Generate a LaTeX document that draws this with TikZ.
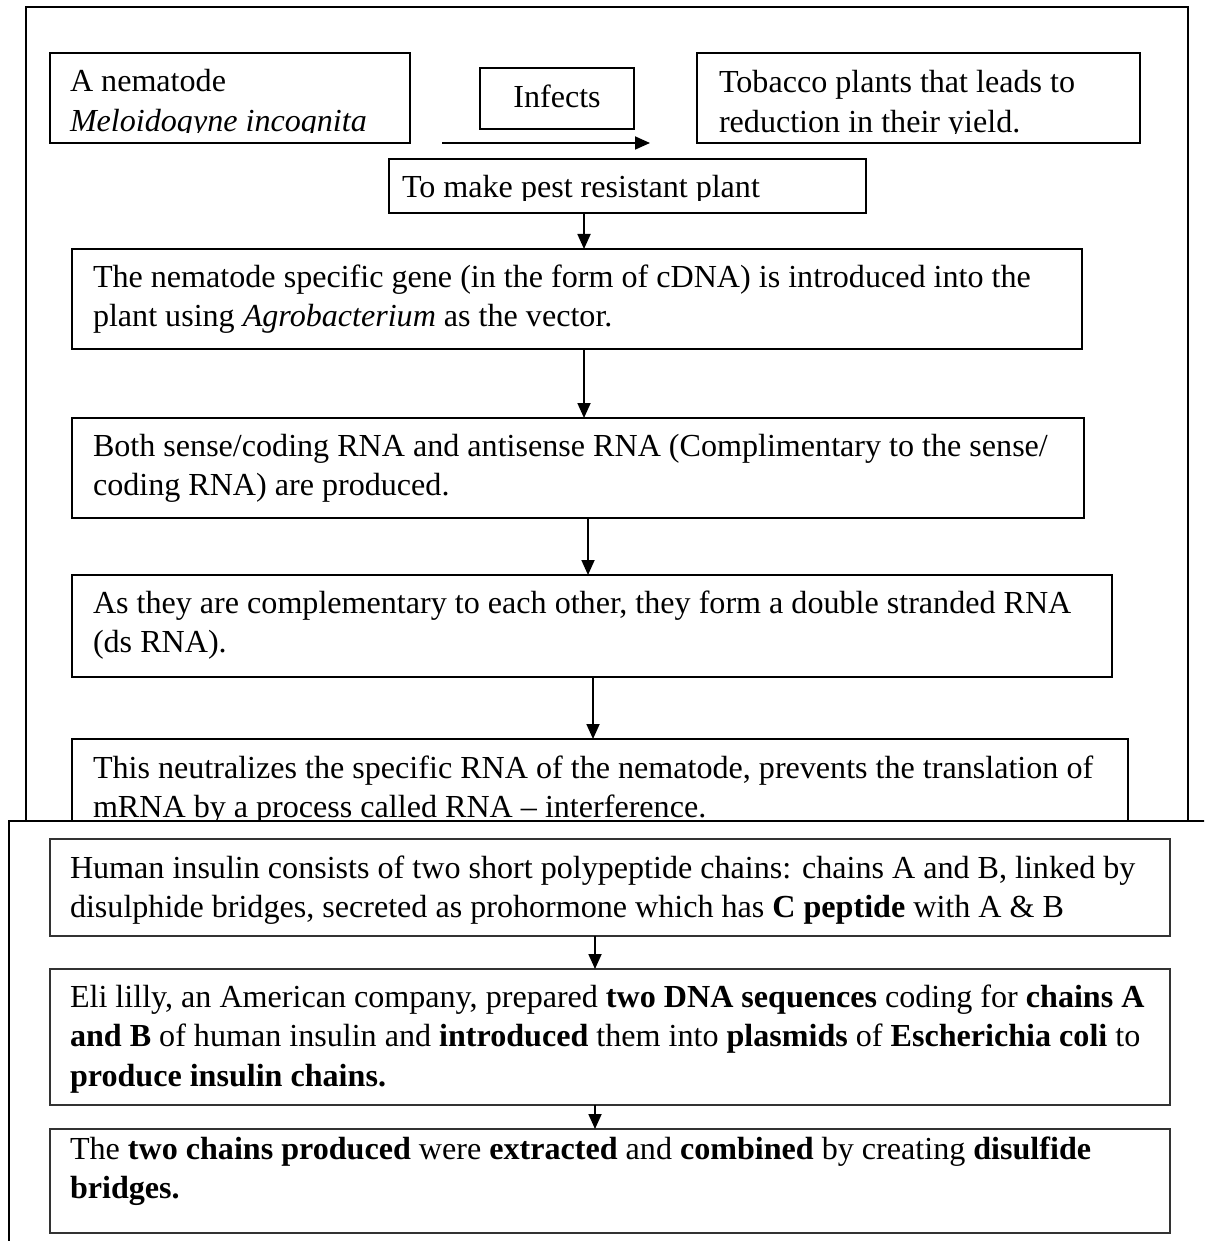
\documentclass[tikz,border=0pt]{standalone}
\usepackage{fontspec}
\setmainfont{Liberation Serif}
\usetikzlibrary{arrows.meta}
\newcommand\txtlines[1]{\begin{tabular}[t]{@{}l@{}}#1\end{tabular}}
\begin{document}
\begin{tikzpicture}[x=1pt,y=-1pt,
  frame/.style={draw=black, line width=2pt, fill=white, inner sep=0pt, outer sep=0pt, anchor=north west},
  box/.style={draw=black, line width=2pt, fill=white, inner sep=0pt, outer sep=0pt, anchor=north west},
  lowbox/.style={box, draw=black!80, line width=1.8pt},
  txt/.style={anchor=base west, draw=none, fill=none, minimum width=0pt, minimum height=0pt,
    inner sep=0pt, outer sep=0pt, font=\fontsize{32.1}{39.5}\selectfont},
  txtc/.style={txt, anchor=base},
  flow/.style={line width=1.8pt, -{Triangle[length=15pt,width=13pt]}},
]
\useasboundingbox (0,0) rectangle (1204,1241);
\clip (0,0) rectangle (1204,1241);
\fill[white] (0,0) rectangle (1204,1241);

% upper panel: nematode resistance
\node[frame, minimum width=1162pt, minimum height=843pt] (frameA) at (26,7) {};

\node[box, minimum width=360pt, minimum height=90pt,
  path picture={
    \clip (path picture bounding box.north west) rectangle ([shift={(0,-10)}]path picture bounding box.south east);
    \node[txt] at ([shift={(20,39)}]path picture bounding box.north west)
      {\txtlines{A nematode\\\textit{Meloidogyne incognita}}};}] (nem) at (50,53) {};

\node[box, minimum width=154pt, minimum height=61pt,
  path picture={
    \node[txtc] at ([shift={(77,40)}]path picture bounding box.north west) {Infects};}] (infects) at (480,68) {};

\node[box, minimum width=443pt, minimum height=90pt,
  path picture={
    \clip (path picture bounding box.north west) rectangle ([shift={(0,-9)}]path picture bounding box.south east);
    \node[txt] at ([shift={(22,40)}]path picture bounding box.north west)
      {\txtlines{Tobacco plants that leads to\\reduction in their yield.}};}] (tobacco) at (697,53) {};

\coordinate (infstart) at (442,143);
\coordinate (infend) at (650,143);
\draw[flow] (infstart) -- (infend);

\node[box, minimum width=477pt, minimum height=54pt,
  path picture={
    \clip (path picture bounding box.north west) rectangle ([shift={(0,-12)}]path picture bounding box.south east);
    \node[txt] at ([shift={(13,39)}]path picture bounding box.north west)
      {To make pest resistant plant};}] (tomake) at (389,159) {};

\node[box, minimum width=1010pt, minimum height=100pt,
  path picture={
    \node[txt] at ([shift={(21,38)}]path picture bounding box.north west)
      {\txtlines{The nematode specific gene (in the form of cDNA) is introduced into the\\plant using \textit{Agrobacterium} as the vector.}};}] (gene) at (72,249) {};

\node[box, minimum width=1012pt, minimum height=100pt,
  path picture={
    \node[txt] at ([shift={(21,38)}]path picture bounding box.north west)
      {\txtlines{Both sense/coding RNA and antisense RNA (Complimentary to the sense/\\coding RNA) are produced.}};}] (both) at (72,418) {};

\node[box, minimum width=1040pt, minimum height=102pt,
  path picture={
    \node[txt] at ([shift={(21,38)}]path picture bounding box.north west)
      {\txtlines{As they are complementary to each other, they form a double stranded RNA\\(ds RNA).}};}] (dsrna) at (72,575) {};

\node[box, minimum width=1056pt, minimum height=120pt,
  path picture={
    \node[txt] at ([shift={(21,39)}]path picture bounding box.north west)
      {\txtlines{This neutralizes the specific RNA of the nematode, prevents the translation of\\mRNA by a process called RNA -- interference.}};}] (neutral) at (72,739) {};

\coordinate (ax1) at (584,0);
\coordinate (ax2) at (584,0);
\coordinate (ax3) at (588,0);
\coordinate (ax4) at (593,0);
\draw[flow] (tomake.south -| ax1) -- (gene.north -| ax1);
\draw[flow] (gene.south -| ax2) -- (both.north -| ax2);
\draw[flow] (both.south -| ax3) -- (dsrna.north -| ax3);
\draw[flow] (dsrna.south -| ax4) -- (neutral.north -| ax4);

% lower panel: human insulin
\node[frame, minimum width=1300pt, minimum height=500pt] (frameB) at (9,821) {};

\node[lowbox, minimum width=1120pt, minimum height=97pt,
  path picture={
    \node[txt] at ([shift={(20,39)}]path picture bounding box.north west)
      {\txtlines{Human insulin consists of two short polypeptide chains: chains A and B, linked by\\disulphide bridges, secreted as prohormone which has \textbf{C peptide} with A \& B}};}] (insulin) at (50,839) {};

\node[lowbox, minimum width=1120pt, minimum height=136pt,
  path picture={
    \node[txt] at ([shift={(20,38)}]path picture bounding box.north west)
      {\txtlines{Eli lilly, an American company, prepared \textbf{two DNA sequences} coding for \textbf{chains A}\\\textbf{and B} of human insulin and \textbf{introduced} them into \textbf{plasmids} of \textbf{Escherichia coli} to\\\textbf{produce insulin chains.}}};}] (eli) at (50,969) {};

\node[lowbox, minimum width=1120pt, minimum height=104pt,
  path picture={
    \node[txt] at ([shift={(20,30)}]path picture bounding box.north west)
      {\txtlines{The \textbf{two chains produced} were \textbf{extracted} and \textbf{combined} by creating \textbf{disulfide}\\\textbf{bridges.}}};}] (chains) at (50,1129) {};

\coordinate (ax5) at (595,0);
\draw[flow] (insulin.south -| ax5) -- (eli.north -| ax5);
\draw[flow] (eli.south -| ax5) -- (chains.north -| ax5);
\end{tikzpicture}
\end{document}
